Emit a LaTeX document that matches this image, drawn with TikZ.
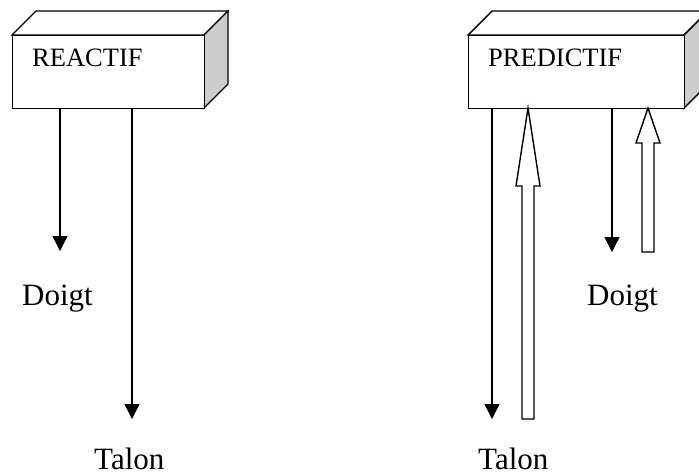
\documentclass[tikz,border=0pt]{standalone}
\usepackage{fontspec}
\setmainfont{Liberation Serif}
\usetikzlibrary{arrows.meta}
\begin{document}
\begin{tikzpicture}[x=1pt,y=-1pt,
  edge/.style={line width=1.4pt},
  front/.style={draw,line width=1.4pt,fill=white,rectangle,inner sep=0pt},
  sideface/.style={draw,line width=1.4pt,fill=gray!40,line join=miter},
  topface/.style={draw,line width=1.4pt,fill=white,line join=miter},
  boxlabel/.style={anchor=base west,inner sep=0pt,font=\fontsize{26.5}{30}\selectfont},
  endlabel/.style={anchor=base west,inner sep=0pt,font=\fontsize{31}{36}\selectfont},
  down/.style={line width=1.4pt,-{Triangle[width=15pt,length=15pt]}},
  hollow/.style={draw,line width=1.4pt,fill=white,line join=miter}]
\useasboundingbox (0,0) rectangle (699,475);
\clip (0,0) rectangle (699,475);
% left box
\draw[topface] (12,35) -- (36,11) -- (228,11) -- (204,35) -- cycle;
\draw[sideface] (204,35) -- (228,11) -- (228,84) -- (204,108) -- cycle;
\node[front,minimum width=192pt,minimum height=73pt,anchor=north west] (reactif) at (12,35) {};
\node[boxlabel] (reactiflbl) at (32,66) {REACTIF};
% right box
\draw[topface] (468,35) -- (492,11) -- (708,11) -- (684,35) -- cycle;
\draw[sideface] (684,35) -- (708,11) -- (708,84) -- (684,108) -- cycle;
\node[front,minimum width=216pt,minimum height=73pt,anchor=north west] (predictif) at (468,35) {};
\node[boxlabel] (predictiflbl) at (488,66) {PREDICTIF};
% labels
\node[endlabel] (doigtL) at (22,305) {Doigt};
\node[endlabel] (talonL) at (94,469) {Talon};
\node[endlabel] (doigtR) at (587,305) {Doigt};
\node[endlabel] (talonR) at (478,469) {Talon};
% left arrows
\coordinate (a1s) at (60,108);
\coordinate (a1e) at (60,251);
\coordinate (a2s) at (132,108);
\coordinate (a2e) at (132,419);
\draw[down] (a1s) -- (a1e);
\draw[down] (a2s) -- (a2e);
% right arrows
\coordinate (b1s) at (492,108);
\coordinate (b1e) at (492,419);
\coordinate (b2s) at (612,108);
\coordinate (b2e) at (612,252);
\draw[down] (b1s) -- (b1e);
\draw[down] (b2s) -- (b2e);
% hollow arrows
\draw[hollow] (528,108) -- (540,186) -- (534,186) -- (534,419) -- (522,419) -- (522,186) -- (516,186) -- cycle;
\draw[hollow] (648,108) -- (660,143) -- (654,143) -- (654,252) -- (642,252) -- (642,143) -- (636,143) -- cycle;
\end{tikzpicture}
\end{document}
